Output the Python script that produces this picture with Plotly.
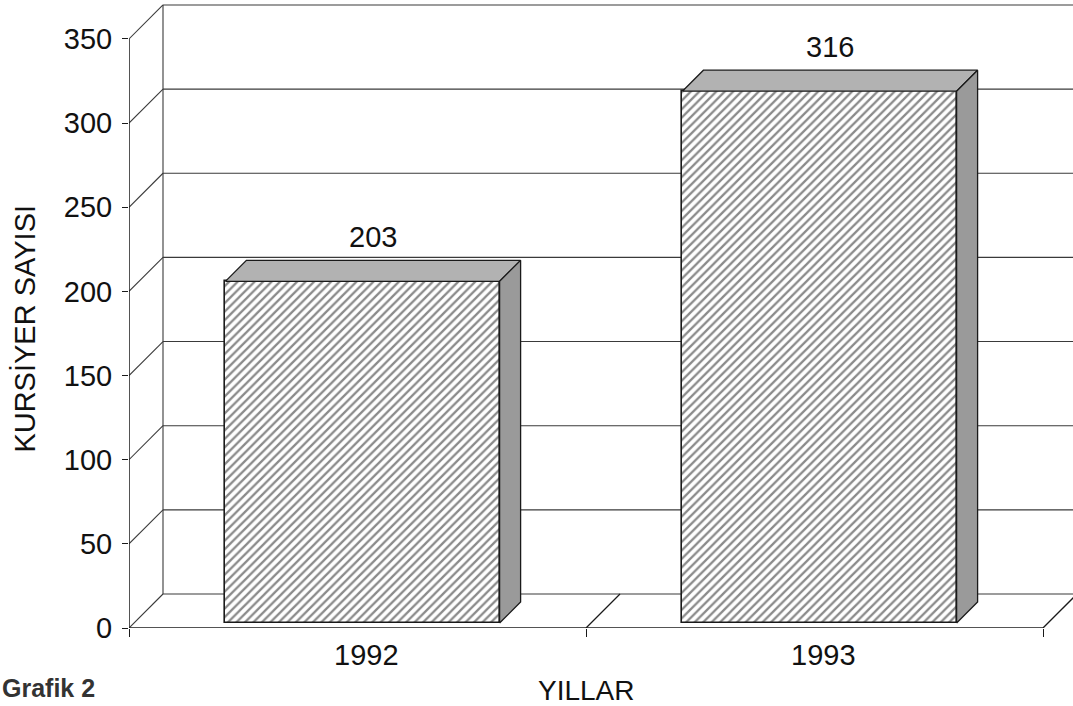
import plotly.graph_objects as go

# ---- data ----
years = ["1992", "1993"]
values = [203, 316]
y_ticks = [0, 50, 100, 150, 200, 250, 300, 350]
y_title = "KURSİYER SAYISI"
x_title = "YILLAR"
caption = "Grafik 2"

# ---- geometry (style constants) ----
PX_X = 457.0          # px per category unit
PX_Y = 1.683          # px per value unit
WALL = 34             # wall depth in px
BAR_OFF = 5           # bar front offset in px
BAR_D = 21            # bar depth in px
BAR_W = 0.6

wdx, wdy = WALL / PX_X, WALL / PX_Y
odx, ody = BAR_OFF / PX_X, BAR_OFF / PX_Y
bdx, bdy = BAR_D / PX_X, BAR_D / PX_Y

ncat = len(years)
xs = list(range(ncat))
x_lo = -0.5
x_hi = x_lo + (1073 - 129) / PX_X
y_hi = 628 / PX_Y

GRID = "#3a3a3a"
AX = "#1a1a1a"
FONT = "Liberation Sans, Arial, Helvetica, sans-serif"

fig = go.Figure()

shapes = []
# back wall gridlines + diagonals (below all traces)
for v in y_ticks:
    shapes.append(dict(type="line", xref="x", yref="y", x0=x_lo, y0=v, x1=x_lo + wdx, y1=v + wdy,
                       line=dict(color=GRID, width=1.1), layer="below"))
    shapes.append(dict(type="line", xref="x", yref="y", x0=x_lo + wdx, y0=v + wdy, x1=x_hi, y1=v + wdy,
                       line=dict(color=GRID, width=1.1), layer="below"))
shapes.append(dict(type="line", xref="x", yref="y", x0=x_lo + wdx, y0=wdy, x1=x_lo + wdx,
                   y1=y_ticks[-1] + wdy, line=dict(color=GRID, width=1.1), layer="below"))
# floor front edge + diagonals
shapes.append(dict(type="line", xref="x", yref="y", x0=x_lo, y0=0, x1=x_lo + ncat, y1=0,
                   line=dict(color=AX, width=1.5), layer="below"))
for k in range(1, ncat + 1):
    shapes.append(dict(type="line", xref="x", yref="y", x0=x_lo + k, y0=0, x1=x_lo + k + wdx, y1=wdy,
                       line=dict(color=AX, width=1.3), layer="below"))
# front y axis line
shapes.append(dict(type="line", xref="x", yref="y", x0=x_lo, y0=0, x1=x_lo, y1=y_ticks[-1],
                   line=dict(color=AX, width=1.5), layer="below"))

# top and side faces of bars
for xi, v in zip(xs, values):
    xc = xi + odx
    x0, x1 = xc - BAR_W / 2, xc + BAR_W / 2
    b = ody
    top = v + b
    fig.add_trace(go.Scatter(
        x=[x0, x1, x1 + bdx, x0 + bdx, x0],
        y=[top, top, top + bdy, top + bdy, top],
        mode="lines", fill="toself", fillcolor="#b2b2b2",
        line=dict(color=AX, width=1.3), hoverinfo="skip", showlegend=False))
    fig.add_trace(go.Scatter(
        x=[x1, x1, x1 + bdx, x1 + bdx, x1],
        y=[b, top, top + bdy, b + bdy, b],
        mode="lines", fill="toself", fillcolor="#9a9a9a",
        line=dict(color=AX, width=1.3), hoverinfo="skip", showlegend=False))

# front faces (hatched bars)
fig.add_trace(go.Bar(
    x=[xi + odx for xi in xs], y=values, base=[ody] * ncat, width=BAR_W,
    marker=dict(color="white", line=dict(color=AX, width=1.6),
                pattern=dict(shape="/", size=6, solidity=0.38, fgcolor="#151515", bgcolor="white")),
    hoverinfo="skip", showlegend=False))

annotations = []
for xi, v in zip(xs, values):
    annotations.append(dict(x=xi + odx + bdx / 2, y=v + ody + bdy, xref="x", yref="y",
                            text=str(v), showarrow=False, xanchor="center", yanchor="bottom", yshift=5,
                            font=dict(size=29, color="#111", family=FONT)))
for xi, name in zip(xs, years):
    annotations.append(dict(x=xi + 0.02, y=-0.043, xref="x", yref="paper",
                            text=name, showarrow=False, xanchor="center", yanchor="middle",
                            font=dict(size=29, color="#111", family=FONT)))
annotations.append(dict(x=x_lo + ncat / 2, y=-0.099, xref="x", yref="paper", text=x_title,
                        showarrow=False, xanchor="center", yanchor="middle",
                        font=dict(size=28, color="#111", family=FONT)))
annotations.append(dict(x=-0.11, y=0.477, xref="paper", yref="paper", text=y_title,
                        textangle=-90, showarrow=False, xanchor="center", yanchor="middle",
                        font=dict(size=29, color="#111", family=FONT)))
annotations.append(dict(x=-0.1367, y=-0.0955, xref="paper", yref="paper", text="<b>" + caption + "</b>",
                        xanchor="left", yanchor="middle", showarrow=False,
                        font=dict(size=25, color="#333", family=FONT)))

fig.update_layout(
    width=1073, height=706,
    margin=dict(l=129, r=0, t=0, b=78),
    paper_bgcolor="white", plot_bgcolor="white",
    bargap=0,
    shapes=shapes,
    annotations=annotations,
    xaxis=dict(range=[x_lo, x_hi], showgrid=False, zeroline=False, showline=False,
               tickmode="array", tickvals=[x_lo + k for k in range(ncat + 1)],
               ticktext=[""] * (ncat + 1), ticks="outside", ticklen=8,
               tickcolor=AX, tickwidth=1.4),
    yaxis=dict(range=[0, y_hi], showgrid=False, zeroline=False, showline=False,
               tickmode="array", tickvals=y_ticks, ticks="outside", ticklen=6,
               tickcolor=AX, tickwidth=1.4, ticklabelstandoff=4,
               tickfont=dict(size=29, color="#111", family=FONT)),
)

fig.write_html("out.html", config={"displayModeBar": False},
               post_script="document.body.style.margin='0';document.body.style.overflow='hidden';")
